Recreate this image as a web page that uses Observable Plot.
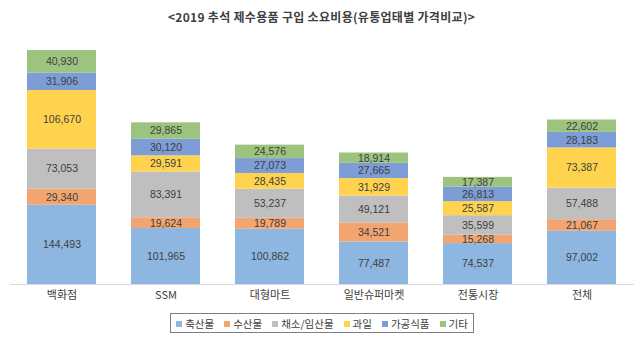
<!DOCTYPE html>
<html><head><meta charset="utf-8">
<script src="https://cdn.jsdelivr.net/npm/d3@7"></script>
<script src="https://cdn.jsdelivr.net/npm/@observablehq/plot@0.6"></script>
<style>
body{margin:0;background:#fff;font-family:"Noto Sans CJK KR","Noto Sans",sans-serif;}
#wrap{position:relative;width:643px;height:340px;overflow:hidden;}
#title{position:absolute;left:0;top:8px;width:643px;text-align:center;font-size:12px;font-weight:bold;color:#404040;line-height:18px;letter-spacing:0.3px;}
#chart{position:absolute;left:0;top:35px;}
#legend{position:absolute;left:170px;top:313px;width:304px;height:20px;border:1px solid #7f7f7f;box-sizing:border-box;display:flex;align-items:center;justify-content:center;gap:10px;font-size:10.5px;color:#404040;white-space:nowrap;}
#legend > span{white-space:nowrap;}
#legend span.sw{display:inline-block;width:6px;height:6px;margin-right:3px;vertical-align:middle;position:relative;top:-1px;}
</style></head>
<body><div id="wrap"><div id="title"></div><div id="chart"></div><div id="legend"></div></div>
<script>
const titleText = "<2019 추석 제수용품 구입 소요비용(유통업태별 가격비교)>";
const categories = ["백화점","SSM","대형마트","일반슈퍼마켓","전통시장","전체"];
const series = ["축산물","수산물","채소/임산물","과일","가공식품","기타"];
const colors = ["#8DB6E1","#F2A571","#BFBFBF","#FFD34D","#7C9DD6","#9CC47E"];
const livestock  = [144493,101965,100862,77487,74537,97002];
const fishery    = [29340,19624,19789,34521,15268,21067];
const vegetables = [73053,83391,53237,49121,35599,57488];
const fruit      = [106670,29591,28435,31929,25587,73387];
const processed  = [31906,30120,27073,27665,26813,28183];
const other      = [40930,29865,24576,18914,17387,22602];
const valuesBySeries = [livestock,fishery,vegetables,fruit,processed,other];

const data = [];
series.forEach((s,i)=>categories.forEach((c,j)=>data.push({cat:c,series:s,value:valuesBySeries[i][j]})));
const maxTotal = d3.max(categories.map((c,j)=>d3.sum(valuesBySeries,v=>v[j])));
const fmt = d3.format(",");

document.getElementById("title").textContent = titleText;

const chart = Plot.plot({
  width:643, height:270,
  marginLeft:10, marginRight:9, marginTop:15, marginBottom:21,
  style:{fontFamily:"'Noto Sans CJK KR', sans-serif", background:"transparent"},
  x:{domain:categories, paddingInner:0.336, paddingOuter:0.168, label:null},
  y:{domain:[0,maxTotal], axis:null},
  color:{domain:series, range:colors},
  marks:[
    Plot.barY(data, Plot.stackY({x:"cat", y:"value", z:"series", order:series, fill:"series"})),
    Plot.text(data, Plot.stackY({x:"cat", y:"value", z:"series", order:series, text:d=>fmt(d.value), fill:"#404040", fontSize:10.5, fontFamily:"'Liberation Sans', sans-serif"})),
    Plot.ruleY([0], {stroke:"#D9D9D9"}),
    Plot.axisX({tickSize:0, tickPadding:7, fontSize:11, color:"#404040", label:null})
  ]
});
document.getElementById("chart").appendChild(chart);

const lg = document.getElementById("legend");
series.forEach((s,i)=>{
  const it=document.createElement("span");
  it.innerHTML=`<span class="sw" style="background:${colors[i]}"></span>${s}`;
  lg.appendChild(it);
});
</script></body></html>
